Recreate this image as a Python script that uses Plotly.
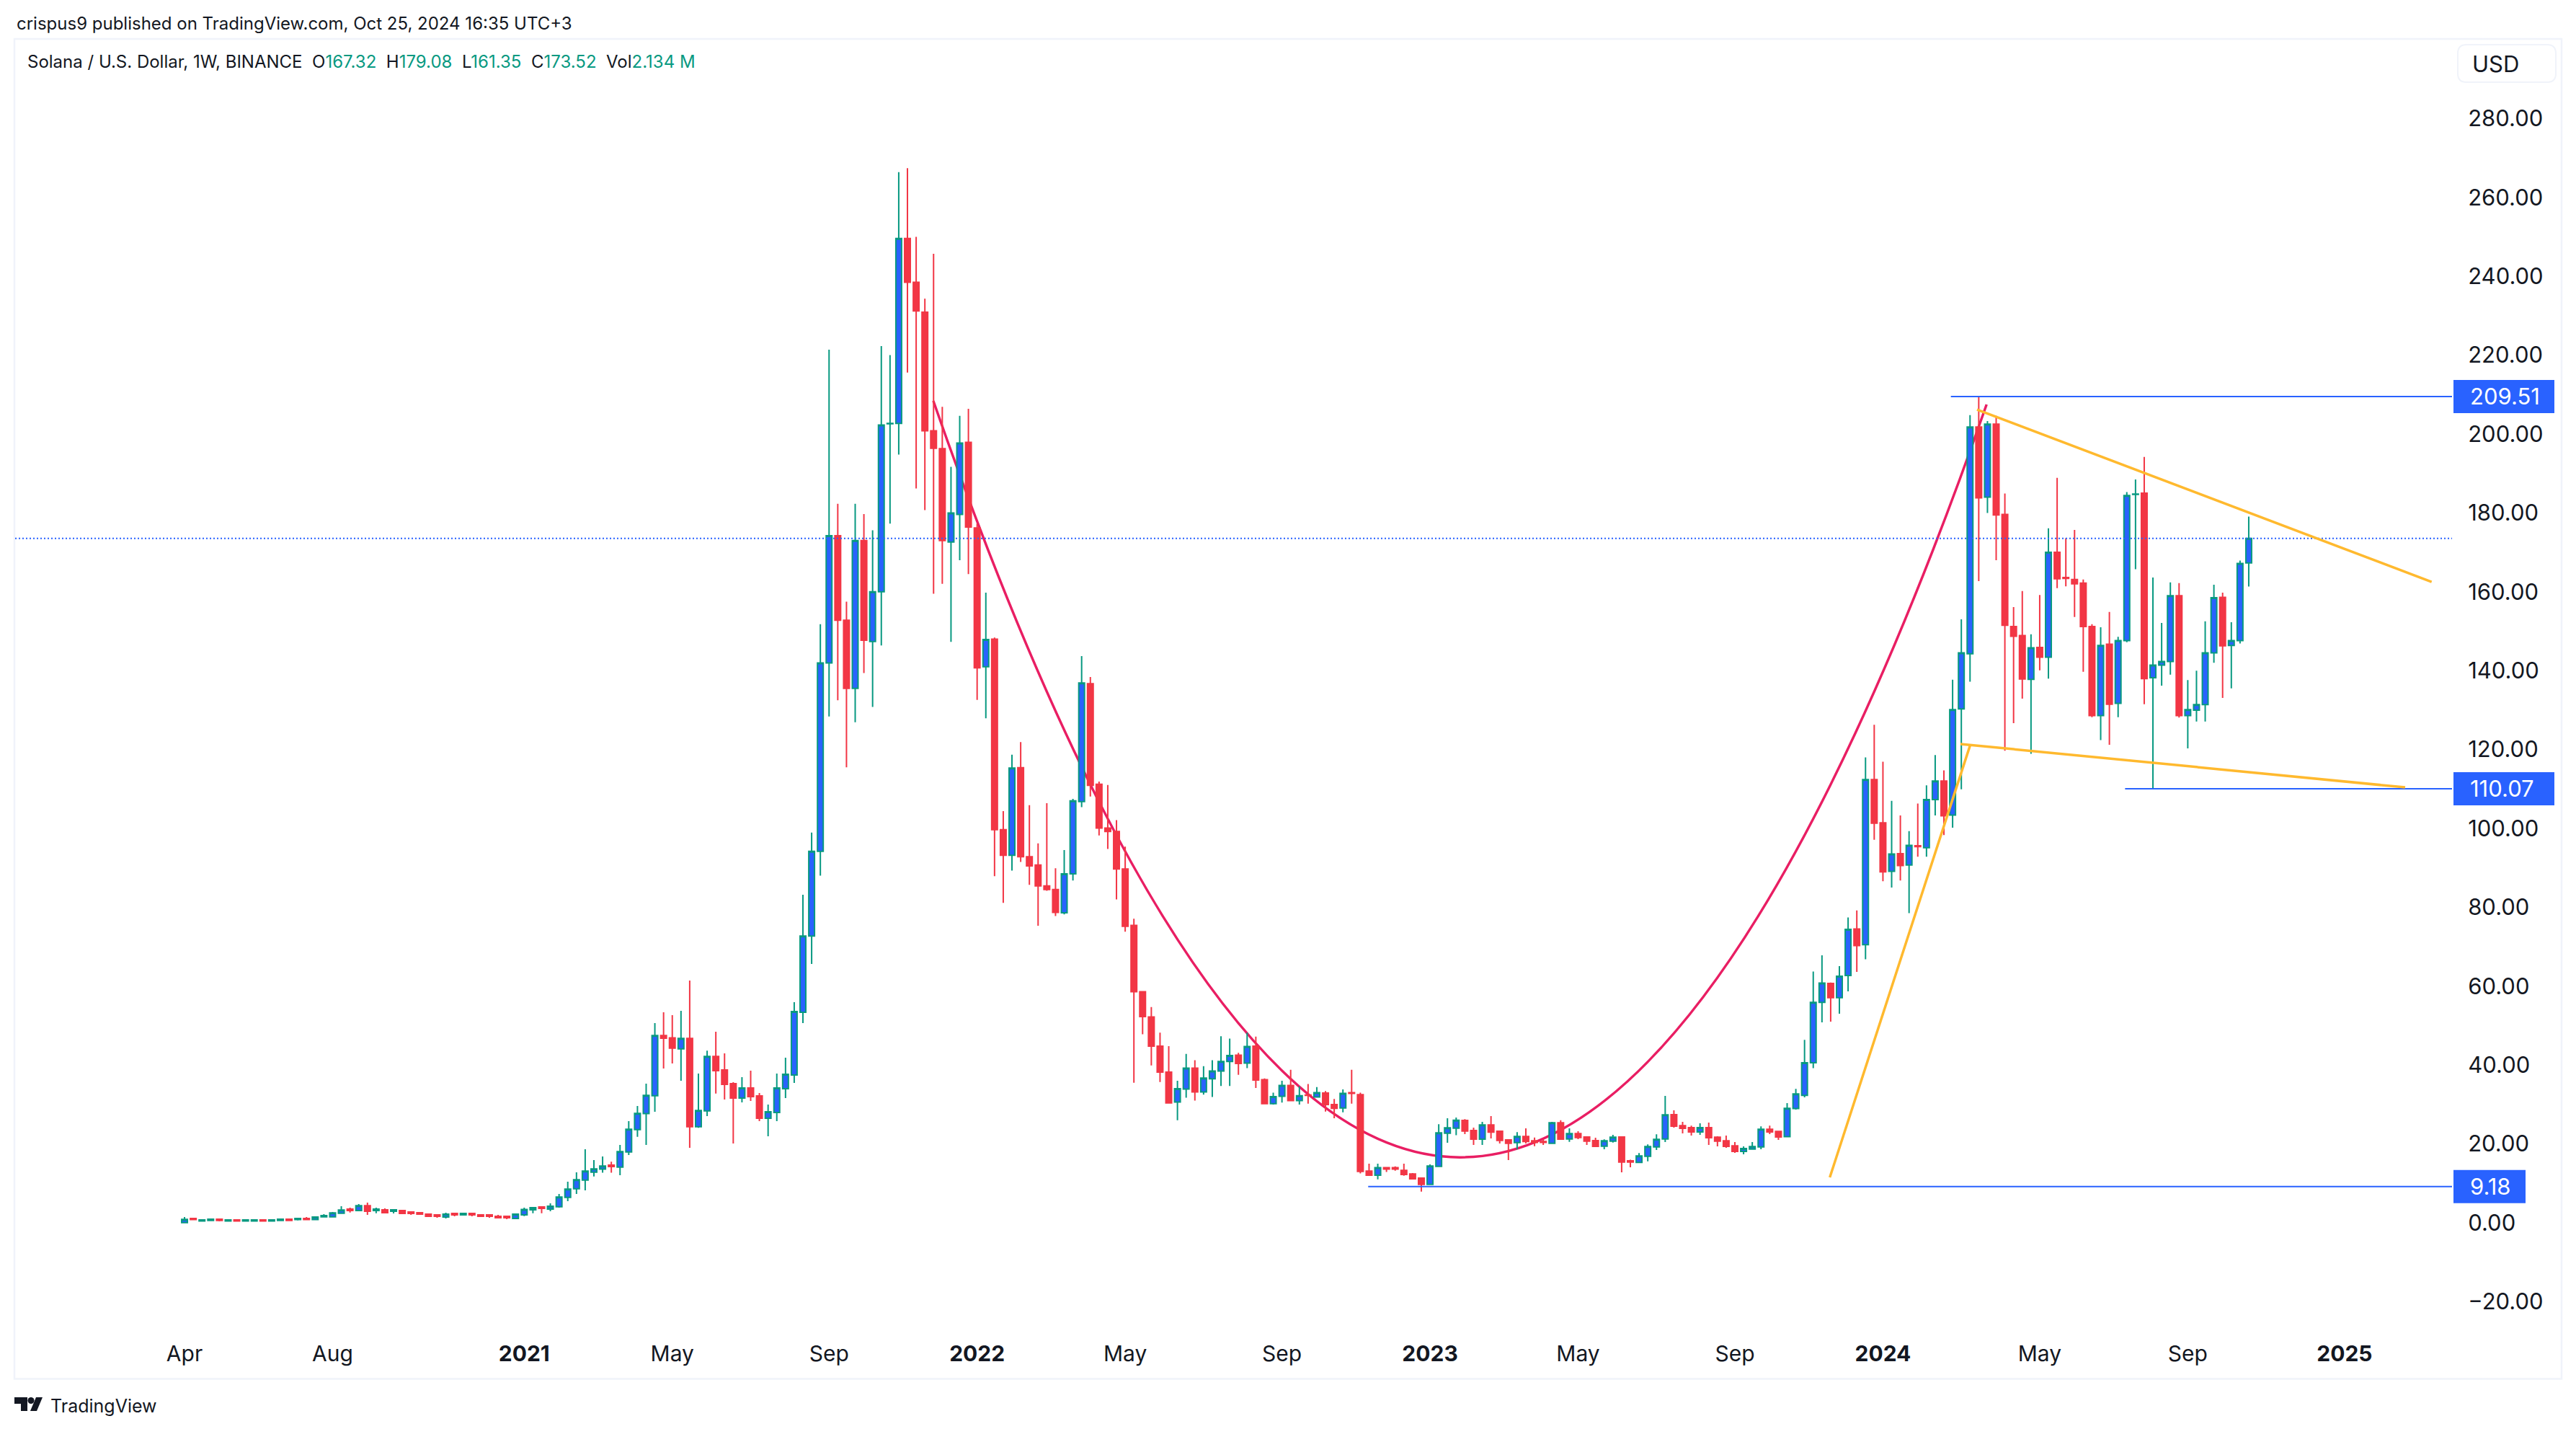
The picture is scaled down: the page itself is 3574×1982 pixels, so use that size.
import pandas as pd
import plotly.graph_objects as go

# weekly SOL/USD candles
FIRST_WEEK = "2020-04-06"

open_px = [
    0.06, 1.10, 0.43, 0.60, 0.91, 0.43, 0.73, 0.43, 0.43, 0.73,
    0.43, 0.60, 0.91, 0.80, 1.10, 0.80, 1.52, 1.52, 2.44, 3.47,
    3.10, 4.33, 3.10, 3.30, 2.90, 3.10, 2.74, 2.56, 2.20, 2.00,
    1.46, 2.38, 2.00, 2.38, 2.00, 2.00, 1.65, 1.65, 1.10, 2.00,
    3.30, 4.00, 3.47, 4.08, 6.46, 8.65, 10.85, 12.86, 13.60, 14.60,
    14.14, 17.98, 23.64, 27.67, 32.24, 47.47, 46.90, 44.12, 46.74, 24.37,
    28.40, 42.17, 38.75, 35.28, 31.63, 34.19, 32.18, 26.51, 27.97, 34.00,
    37.48, 53.38, 72.70, 94.17, 141.97, 174.20, 152.80, 135.50, 173.00, 147.40,
    160.00, 202.60, 202.70, 249.60, 238.50, 230.90, 200.80, 196.30, 172.60, 179.60,
    197.90, 176.20, 141.00, 148.00, 99.70, 93.20, 115.40, 92.80, 90.70, 85.40,
    84.50, 78.60, 88.50, 106.80, 136.70, 111.20, 100.10, 99.20, 89.70, 75.40,
    58.60, 52.20, 44.80, 38.20, 30.60, 33.90, 39.20, 33.20, 36.50, 38.50,
    40.90, 42.50, 40.50, 44.80, 36.30, 30.20, 32.10, 34.80, 31.00, 32.40,
    31.90, 32.90, 30.00, 29.10, 33.00, 32.50, 13.10, 12.07, 14.00, 14.00,
    13.30, 12.37, 11.33, 9.75, 14.32, 22.70, 24.00, 25.96, 23.40, 21.20,
    24.80, 23.20, 21.00, 20.35, 21.90, 20.80, 20.60, 20.17, 25.35, 21.27,
    22.60, 21.75, 20.84, 19.44, 20.72, 21.75, 15.70, 15.30, 16.88, 19.26,
    21.27, 27.42, 24.62, 24.13, 23.03, 24.13, 21.70, 20.78, 19.50, 18.10,
    18.70, 19.26, 23.70, 23.16, 21.82, 28.95, 32.30, 40.60, 55.87, 60.70,
    57.10, 62.70, 74.50, 70.50, 112.40, 101.40, 89.10, 93.60, 90.70, 95.60,
    95.10, 107.30, 112.00, 103.40, 130.30, 144.30, 201.80, 184.00, 202.50, 179.60,
    151.20, 148.90, 137.80, 145.90, 143.40, 170.00, 163.60, 163.10, 162.20, 151.20,
    128.60, 146.70, 131.70, 147.60, 184.70, 185.00, 138.20, 141.40, 142.30, 159.00,
    128.60, 130.00, 131.40, 144.50, 158.60, 146.40, 147.60, 167.32,
]
high_px = [
    1.46, 1.10, 0.73, 0.91, 0.91, 0.73, 0.73, 0.73, 0.73, 0.73,
    0.73, 0.91, 1.10, 1.10, 1.46, 1.60, 2.20, 2.74, 4.20, 3.84,
    4.75, 5.10, 3.84, 3.66, 3.30, 3.10, 2.74, 2.74, 2.20, 2.00,
    2.56, 2.38, 2.56, 2.56, 2.20, 2.00, 2.00, 1.65, 2.38, 3.84,
    4.00, 4.20, 4.94, 7.31, 10.42, 12.80, 18.65, 15.90, 16.80, 15.48,
    19.74, 25.78, 29.60, 35.28, 50.64, 53.38, 52.65, 53.75, 61.40, 37.84,
    43.63, 48.45, 42.96, 35.65, 36.93, 38.57, 32.90, 29.98, 37.84, 41.86,
    55.94, 83.18, 98.96, 151.80, 221.40, 182.30, 157.50, 182.30, 179.70, 175.60,
    222.30, 220.00, 266.40, 267.40, 250.00, 234.30, 245.70, 206.90, 191.70, 204.60,
    206.40, 177.30, 159.80, 148.40, 104.40, 118.70, 121.90, 105.90, 96.20, 106.40,
    89.90, 94.50, 107.50, 143.70, 138.40, 111.90, 111.00, 102.10, 95.40, 77.10,
    58.60, 54.70, 48.20, 44.80, 36.00, 42.80, 41.20, 39.70, 41.20, 47.30,
    46.70, 43.10, 48.20, 47.20, 36.60, 33.00, 36.00, 38.80, 34.60, 35.20,
    34.40, 33.40, 31.40, 33.80, 38.80, 33.00, 15.00, 15.00, 14.10, 14.30,
    15.00, 12.60, 11.50, 14.80, 25.00, 26.50, 26.70, 26.26, 24.13, 25.60,
    27.05, 23.40, 21.20, 23.00, 23.95, 21.60, 21.20, 25.60, 26.00, 23.95,
    23.20, 21.94, 21.57, 21.15, 22.30, 21.94, 16.00, 17.67, 19.87, 22.43,
    32.18, 28.50, 25.60, 24.62, 25.23, 25.41, 21.94, 22.12, 20.47, 19.38,
    20.47, 24.44, 24.62, 23.34, 30.35, 33.94, 46.40, 63.70, 67.80, 60.90,
    65.10, 77.40, 79.20, 118.00, 126.30, 116.90, 107.00, 103.30, 99.30, 106.30,
    110.90, 118.60, 114.70, 137.70, 153.00, 204.80, 209.51, 203.30, 204.60, 184.90,
    156.10, 160.20, 149.20, 159.20, 176.10, 188.90, 173.60, 175.70, 163.10, 151.80,
    151.00, 154.90, 148.60, 185.30, 188.50, 194.20, 163.60, 152.10, 162.40, 162.20,
    137.60, 140.00, 152.50, 161.80, 159.80, 152.30, 167.90, 179.08,
]
low_px = [
    0.06, 0.80, 0.43, 0.60, 0.37, 0.43, 0.43, 0.43, 0.43, 0.43,
    0.43, 0.60, 0.60, 0.60, 0.80, 0.80, 1.34, 1.52, 2.44, 2.62,
    2.90, 2.00, 2.44, 2.38, 2.38, 2.38, 2.00, 2.00, 1.65, 1.28,
    1.10, 1.65, 1.83, 1.65, 1.65, 1.28, 1.28, 0.90, 1.10, 1.70,
    2.44, 2.44, 2.92, 3.84, 5.48, 7.31, 8.23, 11.76, 12.68, 12.68,
    12.07, 17.18, 21.80, 19.74, 28.15, 39.12, 40.40, 36.00, 19.00, 24.10,
    27.05, 32.78, 31.26, 20.10, 30.53, 30.90, 25.78, 21.94, 25.78, 31.63,
    35.47, 50.64, 65.63, 88.00, 128.40, 132.50, 115.50, 126.90, 139.40, 130.80,
    146.40, 177.30, 194.80, 215.60, 186.20, 180.70, 159.50, 162.00, 147.30, 168.00,
    164.50, 132.60, 127.90, 87.90, 81.10, 89.30, 91.50, 85.70, 75.30, 84.20,
    77.80, 78.20, 86.80, 105.40, 108.10, 98.20, 94.80, 82.00, 73.80, 35.50,
    47.80, 39.90, 35.70, 30.40, 26.00, 31.70, 31.00, 32.50, 31.90, 34.70,
    34.70, 37.50, 39.20, 34.20, 30.20, 30.00, 30.50, 31.00, 30.00, 30.20,
    31.90, 28.20, 26.50, 28.00, 30.20, 12.50, 12.07, 11.00, 12.90, 13.20,
    11.94, 11.15, 7.90, 9.75, 14.30, 20.30, 22.20, 22.50, 19.74, 19.74,
    21.40, 20.10, 15.90, 18.65, 20.10, 19.40, 19.74, 20.17, 21.00, 20.50,
    21.20, 19.74, 19.38, 18.65, 20.35, 12.80, 14.08, 15.30, 15.60, 18.46,
    20.47, 24.13, 22.67, 22.12, 22.30, 19.74, 19.38, 19.00, 17.73, 17.37,
    18.65, 18.65, 22.49, 21.02, 21.82, 28.70, 31.80, 39.20, 50.80, 51.00,
    53.00, 58.70, 63.60, 66.80, 97.10, 86.60, 85.00, 86.80, 78.50, 92.80,
    92.80, 103.30, 98.30, 100.20, 109.90, 137.20, 162.70, 180.00, 168.00, 119.70,
    126.70, 132.90, 118.90, 140.10, 138.00, 160.90, 161.40, 153.60, 139.70, 128.20,
    122.40, 121.20, 128.20, 147.20, 165.70, 131.50, 110.07, 136.20, 139.00, 128.10,
    120.30, 127.10, 127.10, 142.00, 133.10, 135.50, 146.90, 161.35,
]
close_px = [
    0.85, 0.80, 0.73, 0.91, 0.60, 0.73, 0.43, 0.73, 0.73, 0.43,
    0.73, 0.91, 0.60, 1.10, 0.80, 1.46, 1.83, 2.50, 3.23, 3.10,
    4.33, 2.90, 3.47, 2.56, 3.30, 2.38, 2.38, 2.20, 1.65, 1.65,
    2.20, 2.00, 2.38, 2.00, 1.65, 1.65, 1.28, 1.28, 2.20, 3.40,
    3.84, 3.66, 4.20, 6.52, 8.53, 10.90, 13.10, 13.65, 14.38, 14.26,
    18.04, 23.70, 27.73, 32.30, 47.47, 46.80, 44.30, 46.74, 24.37, 28.46,
    42.17, 38.57, 35.10, 31.63, 34.19, 31.99, 26.51, 28.15, 34.19, 37.66,
    53.56, 72.70, 94.17, 141.97, 174.20, 152.80, 135.50, 173.00, 147.70, 160.00,
    202.30, 202.70, 249.60, 238.50, 231.20, 200.80, 196.40, 173.00, 180.00, 197.70,
    176.40, 140.70, 147.90, 99.70, 93.20, 115.30, 92.80, 90.50, 85.40, 84.50,
    78.70, 88.50, 107.00, 136.90, 110.90, 100.10, 99.20, 89.70, 75.20, 58.60,
    52.30, 44.80, 38.20, 30.40, 34.00, 39.20, 33.20, 36.70, 38.50, 40.90,
    42.40, 40.40, 44.70, 36.20, 30.20, 32.00, 34.80, 31.00, 32.20, 32.30,
    33.00, 30.00, 29.00, 32.80, 32.80, 13.00, 12.07, 14.00, 13.60, 13.60,
    12.25, 11.15, 9.75, 14.38, 22.80, 24.07, 26.00, 23.28, 21.20, 24.80,
    23.00, 20.90, 20.17, 21.90, 20.60, 20.40, 20.40, 25.35, 21.20, 22.60,
    21.60, 20.70, 19.38, 20.78, 21.70, 15.42, 15.42, 16.94, 19.32, 21.15,
    27.36, 24.50, 23.95, 23.03, 24.13, 21.57, 20.72, 19.38, 18.10, 18.83,
    19.32, 23.70, 23.03, 21.75, 29.00, 32.66, 40.60, 55.87, 60.80, 57.10,
    62.50, 74.40, 70.30, 112.40, 101.30, 89.00, 93.50, 90.60, 95.70, 95.40,
    107.30, 112.00, 103.20, 130.10, 144.50, 201.80, 183.80, 202.50, 179.50, 151.50,
    148.70, 137.90, 145.80, 143.40, 170.00, 163.30, 163.40, 162.00, 151.20, 128.60,
    146.40, 131.50, 147.60, 184.40, 184.80, 138.00, 141.40, 142.30, 159.00, 128.60,
    130.10, 131.40, 144.50, 158.50, 146.30, 147.60, 167.20, 173.52,
]

# drawings, as (week number, price)
# the rounded top is one quadratic curve: start, control, end
arc_weeks = [85.97, 146.4, 206.9]
arc_prices = [208.4, -174.75, 207.5]
rise_weeks, rise_prices = [188.9, 205.0], [11.5, 121.0]
lower_weeks, lower_prices = [203.9, 254.96], [121.4, 110.4]
upper_weeks, upper_prices = [205.8, 258.0], [206.2, 162.5]

level_prices = [209.51, 110.07, 9.18]
level_labels = ["209.51", "110.07", "9.18"]
level_start_weeks = [202.8, 222.8, 135.9]
last_close = 173.52

y_ticks = [-20, 0, 20, 40, 60, 80, 100, 120, 140, 160, 180, 200, 220, 240, 260, 280]
y_tick_labels = ["−20.00", "0.00", "20.00", "40.00", "60.00", "80.00", "100.00", "120.00", "140.00",
                 "160.00", "180.00", "200.00", "220.00", "240.00", "260.00", "280.00"]
x_ticks = ["2020-04-06", "2020-08-03", "2021-01-04", "2021-05-03", "2021-09-06", "2022-01-03", "2022-05-02",
           "2022-09-05", "2023-01-02", "2023-05-01", "2023-09-04", "2024-01-01", "2024-05-06", "2024-09-02",
           "2025-01-06"]
x_tick_labels = ["Apr", "Aug", "<b>2021</b>", "May", "Sep", "<b>2022</b>", "May", "Sep", "<b>2023</b>", "May",
                 "Sep", "<b>2024</b>", "May", "Sep", "<b>2025</b>"]

GREEN = "#089981"
RED = "#F23645"
BLUE = "#2962FF"
ORANGE = "#FFB92E"
PINK = "#E91E63"
INK = "#131722"
FRAME = "#F0F3FA"
FONT = "Inter"

W, H = 3574, 1982
PLOT_L, PLOT_R, PLOT_T, PLOT_B = 21, 3402, 55, 1840
WEEK_L, WEEK_R = -19.45, 260.34


def week_date(week):
    return pd.Timestamp(FIRST_WEEK) + pd.Timedelta(days=week * 7)


def week_dates(weeks):
    return [week_date(w) for w in weeks]


def path_date(week):
    return week_date(week).strftime("%Y-%m-%d_%H:%M:%S")


def px_x(x):
    return (x - PLOT_L) / (PLOT_R - PLOT_L)


def px_y(y):
    return 1 - (y - PLOT_T) / (PLOT_B - PLOT_T)


dates = pd.date_range(FIRST_WEEK, periods=len(close_px), freq="7D")

fig = go.Figure()


def add_line(weeks, prices, color, width, dash="solid"):
    fig.add_trace(go.Scatter(x=week_dates(weeks), y=prices, mode="lines", hoverinfo="skip",
                             line=dict(color=color, width=width, dash=dash)))


# drawings sit under the candles
add_line([WEEK_L, WEEK_R], [last_close, last_close], BLUE, 2, dash="2px,3px")
for price, start in zip(level_prices, level_start_weeks):
    add_line([start, WEEK_R], [price, price], BLUE, 2)
add_line(rise_weeks, rise_prices, ORANGE, 3.5)
add_line(lower_weeks, lower_prices, ORANGE, 3.5)
add_line(upper_weeks, upper_prices, ORANGE, 3.5)

fig.add_trace(go.Candlestick(
    x=dates, open=open_px, high=high_px, low=low_px, close=close_px,
    whiskerwidth=0,
    increasing=dict(fillcolor=BLUE, line=dict(color=GREEN, width=2)),
    decreasing=dict(fillcolor=RED, line=dict(color=RED, width=2)),
))

annotations = []
shapes = []


def add_text(text, x, y, size, color=INK, anchor="left"):
    annotations.append(dict(text=text, xref="paper", yref="paper", x=px_x(x), y=px_y(y), xanchor=anchor,
                            yanchor="middle", showarrow=False, font=dict(family=FONT, size=size, color=color)))


add_text("crispus9 published on TradingView.com, Oct 25, 2024 16:35 UTC+3", 21, 32, 24)

ohlc = [("O", "167.32"), ("H", "179.08"), ("L", "161.35"), ("C", "173.52"), ("Vol", "2.134 M")]
legend = "Solana / U.S. Dollar, 1W, BINANCE"
for name, value in ohlc:
    legend += f"&nbsp;&nbsp;{name}<span style='color:{GREEN}'>{value}</span>"
add_text(legend, 36, 85, 24)

add_text("TradingView", 68, 1950, 25)

# rounded top curve
shapes.append(dict(type="path", xref="x", yref="y", layer="below", line=dict(color=PINK, width=3.5),
                   path=(f"M{path_date(arc_weeks[0])},{arc_prices[0]} "
                         f"Q{path_date(arc_weeks[1])},{arc_prices[1]} {path_date(arc_weeks[2])},{arc_prices[2]}")))

# outer frame
shapes.append(dict(type="rect", xref="paper", yref="paper", x0=px_x(20), x1=px_x(3554), y0=px_y(54), y1=px_y(1912.5),
                   line=dict(color=FRAME, width=2.5), layer="below"))

# USD box
shapes.append(dict(type="path", xref="paper", yref="paper", layer="above", line=dict(color=FRAME, width=2),
                   path=(f"M{px_x(3422)},{px_y(62)} L{px_x(3534)},{px_y(62)} "
                         f"Q{px_x(3546)},{px_y(62)} {px_x(3546)},{px_y(74)} L{px_x(3546)},{px_y(102)} "
                         f"Q{px_x(3546)},{px_y(114)} {px_x(3534)},{px_y(114)} L{px_x(3422)},{px_y(114)} "
                         f"Q{px_x(3410)},{px_y(114)} {px_x(3410)},{px_y(102)} L{px_x(3410)},{px_y(74)} "
                         f"Q{px_x(3410)},{px_y(62)} {px_x(3422)},{px_y(62)} Z")))
add_text("USD", 3428, 88, 31)

# price tags on the scale
for price, label in zip(level_prices, level_labels):
    box_right = 3544 if len(label) > 4 else 3504
    shapes.append(dict(type="rect", xref="paper", yref="y", ysizemode="pixel", yanchor=price, y0=-23, y1=23,
                       x0=px_x(3404), x1=px_x(box_right), fillcolor=BLUE, line=dict(width=0), layer="above"))
    annotations.append(dict(text=label, xref="paper", yref="y", x=px_x(3425), y=price, xanchor="left",
                            yanchor="middle", showarrow=False, font=dict(family=FONT, size=31, color="white")))

# TradingView logo
logo_t = [(20, 1938), (38, 1938), (38, 1957), (29, 1957), (29, 1947), (20, 1947)]
logo_slash = [(50, 1938), (59, 1938), (51, 1957), (42, 1957)]
for poly in (logo_t, logo_slash):
    path = "M" + " L".join(f"{px_x(a)},{px_y(b)}" for a, b in poly) + " Z"
    shapes.append(dict(type="path", xref="paper", yref="paper", path=path, fillcolor=INK, line=dict(width=0),
                       layer="above"))
shapes.append(dict(type="circle", xref="paper", yref="paper", x0=px_x(38.5), x1=px_x(47.5), y0=px_y(1947), y1=px_y(1938),
                   fillcolor=INK, line=dict(width=0), layer="above"))

fig.update_layout(
    width=W, height=H,
    margin=dict(l=PLOT_L, r=W - PLOT_R, t=PLOT_T, b=H - PLOT_B, autoexpand=False),
    paper_bgcolor="white", plot_bgcolor="white",
    showlegend=False,
    boxgap=0.338, boxgroupgap=0,
    annotations=annotations, shapes=shapes,
    xaxis=dict(
        type="date", range=[week_date(WEEK_L), week_date(WEEK_R)],
        rangeslider=dict(visible=False),
        tickmode="array", tickvals=x_ticks, ticktext=x_tick_labels,
        ticks="outside", ticklen=11, tickcolor="rgba(0,0,0,0)",
        tickfont=dict(family=FONT, size=30, color=INK),
        showgrid=False, zeroline=False, showline=False,
    ),
    yaxis=dict(
        side="right", range=[-26.33, 300.0],
        tickmode="array", tickvals=y_ticks, ticktext=y_tick_labels,
        ticks="outside", ticklen=15, tickcolor="rgba(0,0,0,0)",
        tickfont=dict(family=FONT, size=31, color=INK),
        showgrid=False, zeroline=False, showline=False,
    ),
)

fig.write_html("out.html", config={"displayModeBar": False}, post_script="document.body.style.margin='0';")
